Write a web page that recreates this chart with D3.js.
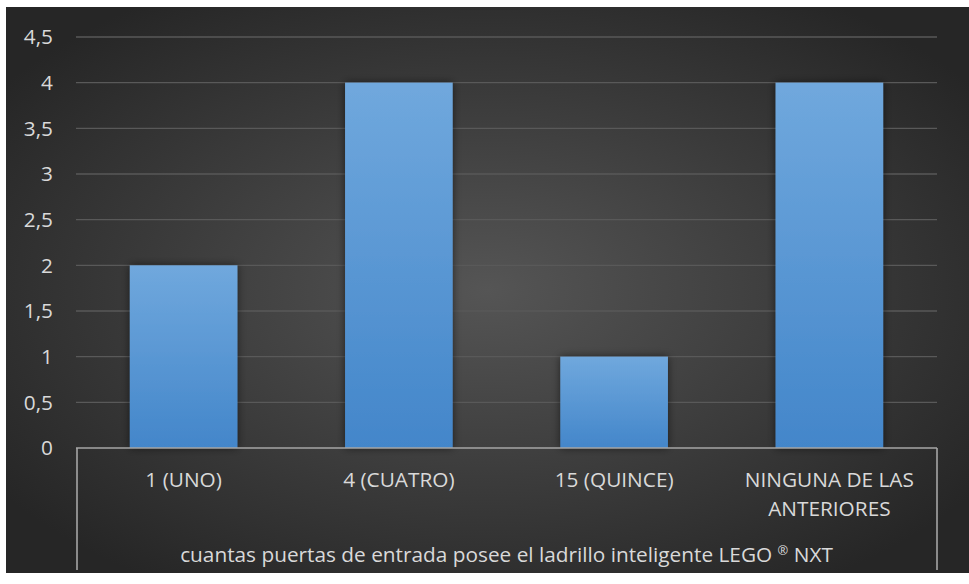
<!DOCTYPE html>
<html>
<head>
<meta charset="utf-8">
<script src="https://cdn.jsdelivr.net/npm/d3@7/dist/d3.min.js"></script>
<style>
  html, body { margin: 0; padding: 0; background: #ffffff; }
  svg { display: block; }
</style>
</head>
<body>
<svg id="chart" width="969" height="584"></svg>
<script>
// Answers to: how many input ports does the LEGO NXT brick have
const categories = [["1 (UNO)"], ["4 (CUATRO)"], ["15 (QUINCE)"], ["NINGUNA DE LAS", "ANTERIORES"]];
const counts = [2, 4, 1, 4];
const yTicks = [0, 0.5, 1, 1.5, 2, 2.5, 3, 3.5, 4, 4.5];
const groupLabel = "cuantas puertas de entrada posee el ladrillo inteligente LEGO ® NXT";

const svg = d3.select("#chart");
const W = 969, H = 584;
const font = "'Open Sans', 'Noto Sans', sans-serif";
const textColor = "#d9d9d9";
const fontSize = 20.8;

const defs = svg.append("defs");

const bg = defs.append("radialGradient").attr("id", "bgGrad")
  .attr("cx", "50%").attr("cy", "50%").attr("r", "62%");
bg.append("stop").attr("offset", "0%").attr("stop-color", "#555555");
bg.append("stop").attr("offset", "100%").attr("stop-color", "#262626");

const barGrad = defs.append("linearGradient").attr("id", "barGrad")
  .attr("x1", 0).attr("y1", 0).attr("x2", 0).attr("y2", 1);
barGrad.append("stop").attr("offset", "0%").attr("stop-color", "#70a8dd");
barGrad.append("stop").attr("offset", "100%").attr("stop-color", "#4386ca");

const shadow = defs.append("filter").attr("id", "barShadow")
  .attr("x", "-20%").attr("y", "-20%").attr("width", "140%").attr("height", "140%");
shadow.append("feDropShadow").attr("dx", 0).attr("dy", 0)
  .attr("stdDeviation", 4).attr("flood-color", "#000").attr("flood-opacity", 0.55);

// chart area background
svg.append("rect").attr("x", 6).attr("y", 7).attr("width", W - 6).attr("height", 566)
  .attr("fill", "url(#bgGrad)");

const plot = { left: 76, right: 937, top: 37, bottom: 448 };

const x = d3.scaleBand().domain(d3.range(categories.length))
  .range([plot.left, plot.right]).paddingInner(0.5).paddingOuter(0.25);
const y = d3.scaleLinear().domain([0, 4.5]).range([plot.bottom, plot.top]);

// horizontal gridlines
svg.append("g").selectAll("line").data(yTicks.filter(d => d > 0)).join("line")
  .attr("x1", plot.left).attr("x2", plot.right)
  .attr("y1", d => y(d)).attr("y2", d => y(d))
  .attr("stroke", "#595959").attr("stroke-width", 1.3);

// y axis labels
const fmt = d => String(d).replace(".", ",");
svg.append("g").selectAll("text").data(yTicks).join("text")
  .attr("x", 53).attr("y", d => y(d)).attr("dy", "0.35em")
  .attr("text-anchor", "end")
  .attr("font-family", font).attr("font-size", fontSize).attr("fill", textColor)
  .text(fmt);

// bars
svg.append("g").selectAll("rect").data(counts).join("rect")
  .attr("x", (d, i) => x(i)).attr("width", x.bandwidth())
  .attr("y", d => y(d)).attr("height", d => y(0) - y(d))
  .attr("fill", "url(#barGrad)")
  .attr("filter", "url(#barShadow)");

// category axis frame
const axisColor = "#a6a6a6";
const frame = svg.append("g").attr("stroke", axisColor).attr("stroke-width", 1.6).attr("fill", "none");
frame.append("line").attr("x1", plot.left).attr("x2", plot.right)
  .attr("y1", plot.bottom).attr("y2", plot.bottom);
frame.append("line").attr("x1", plot.left + 1).attr("x2", plot.left + 1)
  .attr("y1", plot.bottom).attr("y2", 570);
frame.append("line").attr("x1", plot.right).attr("x2", plot.right)
  .attr("y1", plot.bottom).attr("y2", 570);

// category labels
const catG = svg.append("g");
categories.forEach((lines, i) => {
  const t = catG.append("text")
    .attr("x", x(i) + x.bandwidth() / 2).attr("y", 487)
    .attr("text-anchor", "middle")
    .attr("font-family", font).attr("font-size", fontSize).attr("fill", textColor);
  lines.forEach((ln, j) => {
    t.append("tspan").attr("x", x(i) + x.bandwidth() / 2)
      .attr("dy", j === 0 ? 0 : 29).text(ln);
  });
});

// group label, with the registered sign set small and raised
const gl = svg.append("text")
  .attr("x", (plot.left + plot.right) / 2).attr("y", 555)
  .attr("text-anchor", "middle")
  .attr("font-family", font).attr("font-size", fontSize).attr("fill", textColor);
groupLabel.split(/(®)/).forEach(part => {
  if (part === "®") {
    gl.append("tspan").attr("font-size", fontSize * 0.62).attr("dy", -7).text(part);
  } else if (part.length) {
    gl.append("tspan").attr("dy", part === groupLabel ? 0 : (gl.selectAll("tspan").size() ? 7 : 0)).text(part);
  }
});
</script>
</body>
</html>
